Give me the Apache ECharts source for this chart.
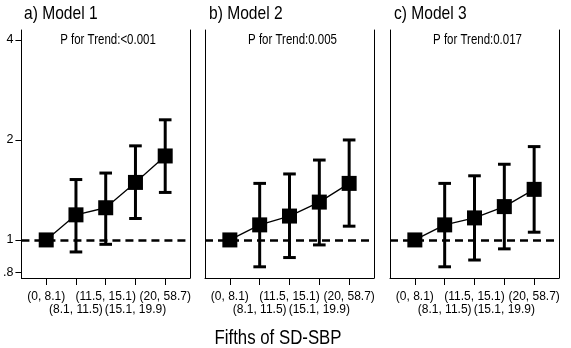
<!DOCTYPE html>
<html><head><meta charset="utf-8">
<script src="https://cdn.jsdelivr.net/npm/echarts@6/dist/echarts.min.js"></script>
<style>html,body{margin:0;padding:0;background:#fff}#c{width:571px;height:348px}</style>
</head><body><div id="c"></div>
<script>
// ---- data ----
const categories = ['(0, 8.1)', '(8.1, 11.5)', '(11.5, 15.1)', '(15.1, 19.9)', '(20, 58.7)'];
const positions = [1, 2, 3, 4, 5];
const oddPositions = [1, 3, 5];
const evenPositions = [2, 4];

const model1Est  = [1, 1.19, 1.25, 1.49, 1.79];
const model1Low  = [1, 0.92, 0.97, 1.16, 1.39];
const model1High = [1, 1.52, 1.59, 1.92, 2.30];

const model2Est  = [1, 1.11, 1.18, 1.30, 1.48];
const model2Low  = [1, 0.83, 0.885, 0.966, 1.10];
const model2High = [1, 1.48, 1.58, 1.74, 2.00];

const model3Est  = [1, 1.11, 1.165, 1.26, 1.42];
const model3Low  = [1, 0.83, 0.87, 0.94, 1.055];
const model3High = [1, 1.48, 1.56, 1.69, 1.91];

const panelTitles = ['a) Model 1', 'b) Model 2', 'c) Model 3'];
const trendTexts = ['P for Trend:<0.001', 'P for Trend:0.005', 'P for Trend:0.017'];
const yTickValues = [0.8, 1, 2, 4];
const yTickLabels = ['.8', '1', '2', '4'];
const xTitle = 'Fifths of SD-SBP';
const refValue = 1;

// ---- layout / style ----
const FONT = '"Liberation Sans", Arial, sans-serif';
const NARROW = 0.82;
const panels = [
  {left: 20, width: 170, est: model1Est, low: model1Low, high: model1High},
  {left: 205, width: 169, est: model2Est, low: model2Low, high: model2High},
  {left: 390, width: 169, est: model3Est, low: model3Low, high: model3High}
];
const TOP = 30, HEIGHT = 248;
const X_MIN = 1 / 6, X_MAX = 35 / 6;
const Y_MIN = 0.768, Y_MAX = 4.287;

const grid = [], xAxis = [], yAxis = [], series = [], graphic = [];
const catLabel = v => categories[Math.round(v) - 1];

panels.forEach((p, i) => {
  grid.push({left: p.left, top: TOP, width: p.width, height: HEIGHT, containLabel: false});
  // main x axis: line, all ticks, labels for odd positions (first row)
  xAxis.push({
    type: 'value', gridIndex: i, min: X_MIN, max: X_MAX, position: 'bottom',
    axisLine: {show: true, onZero: false, lineStyle: {color: '#000', width: 1}},
    axisTick: {show: true, customValues: positions, length: 7, lineStyle: {color: '#000', width: 1}},
    axisLabel: {
      show: true, customValues: oddPositions, margin: 12.5, fontSize: 12, lineHeight: 13,
      fontFamily: FONT, color: '#000', showMinLabel: true, showMaxLabel: true, hideOverlap: false,
      formatter: catLabel
    },
    splitLine: {show: false}
  });
  // second x axis in the same grid: labels for even positions (second row)
  xAxis.push({
    type: 'value', gridIndex: i, min: X_MIN, max: X_MAX, position: 'bottom',
    axisLine: {show: false}, axisTick: {show: false},
    axisLabel: {
      show: true, customValues: evenPositions, margin: 25.5, fontSize: 12, lineHeight: 13,
      fontFamily: FONT, color: '#000', showMinLabel: true, showMaxLabel: true, hideOverlap: false,
      formatter: catLabel
    },
    splitLine: {show: false}
  });
  yAxis.push({
    type: 'log', logBase: 2, gridIndex: i, min: Y_MIN, max: Y_MAX, position: 'left',
    axisLine: {show: true, onZero: false, lineStyle: {color: '#000', width: 1}},
    axisTick: {show: i === 0, customValues: yTickValues, length: 6, lineStyle: {color: '#000'}},
    axisLabel: {
      show: i === 0, customValues: yTickValues, margin: 8, fontSize: 12.5, fontFamily: FONT, color: '#000',
      showMinLabel: true, showMaxLabel: true,
      formatter: v => { let best = 0; yTickValues.forEach((t, k) => { if (Math.abs(t - v) < Math.abs(yTickValues[best] - v)) best = k; }); return yTickLabels[best]; }
    },
    splitLine: {show: false}
  });
  yAxis.push({
    type: 'log', logBase: 2, gridIndex: i, min: Y_MIN, max: Y_MAX, position: 'right',
    axisLine: {show: true, onZero: false, lineStyle: {color: '#000', width: 1}},
    axisTick: {show: false}, axisLabel: {show: false}, splitLine: {show: false}
  });
  const xIdx = i * 2, yIdx = i * 2;
  series.push({
    type: 'custom', xAxisIndex: xIdx, yAxisIndex: yIdx, z: 3,
    data: positions.map((x, k) => [x, p.low[k], p.high[k]]),
    encode: {x: 0, y: [1, 2]},
    renderItem: (params, api) => {
      const x = api.value(0), lo = api.value(1), hi = api.value(2);
      if (lo === hi) return null;
      const a = api.coord([x, lo]), b = api.coord([x, hi]);
      const cap = 6.3;
      const st = {stroke: '#000', lineWidth: 3};
      return {type: 'group', children: [
        {type: 'line', shape: {x1: a[0], y1: a[1], x2: b[0], y2: b[1]}, style: st},
        {type: 'line', shape: {x1: b[0] - cap, y1: b[1], x2: b[0] + cap, y2: b[1]}, style: st},
        {type: 'line', shape: {x1: a[0] - cap, y1: a[1], x2: a[0] + cap, y2: a[1]}, style: st}
      ]};
    }
  });
  series.push({
    type: 'line', xAxisIndex: xIdx, yAxisIndex: yIdx, z: 4,
    data: positions.map((x, k) => [x, p.est[k]]),
    symbol: 'rect', symbolSize: 15,
    itemStyle: {color: '#000'},
    lineStyle: {color: '#000', width: 1.3},
    markLine: {
      silent: true, symbol: 'none', label: {show: false},
      lineStyle: {color: '#000', width: 2.5, type: [8, 5]},
      data: [{yAxis: refValue}]
    }
  });
  graphic.push({
    type: 'text', x: p.left + 4, y: 14, scaleX: NARROW,
    style: {text: panelTitles[i], fontSize: 19, fontFamily: FONT, fill: '#000', align: 'left', verticalAlign: 'middle', textAlign: 'left', textVerticalAlign: 'middle'}
  });
  graphic.push({
    type: 'text', x: p.left + p.width / 2 + 3, y: 40.5, scaleX: NARROW,
    style: {text: trendTexts[i], fontSize: 14, fontFamily: FONT, fill: '#000', align: 'center', verticalAlign: 'middle', textAlign: 'center', textVerticalAlign: 'middle'}
  });
});

graphic.push({
  type: 'text', x: 278, y: 338, scaleX: NARROW,
  style: {text: xTitle, fontSize: 20.5, fontFamily: FONT, fill: '#000', align: 'center', verticalAlign: 'middle', textAlign: 'center', textVerticalAlign: 'middle'}
});

const chart = echarts.init(document.getElementById('c'), null, {renderer: 'canvas'});
chart.setOption({animation: false, backgroundColor: '#fff', grid, xAxis, yAxis, series, graphic});
</script></body></html>
